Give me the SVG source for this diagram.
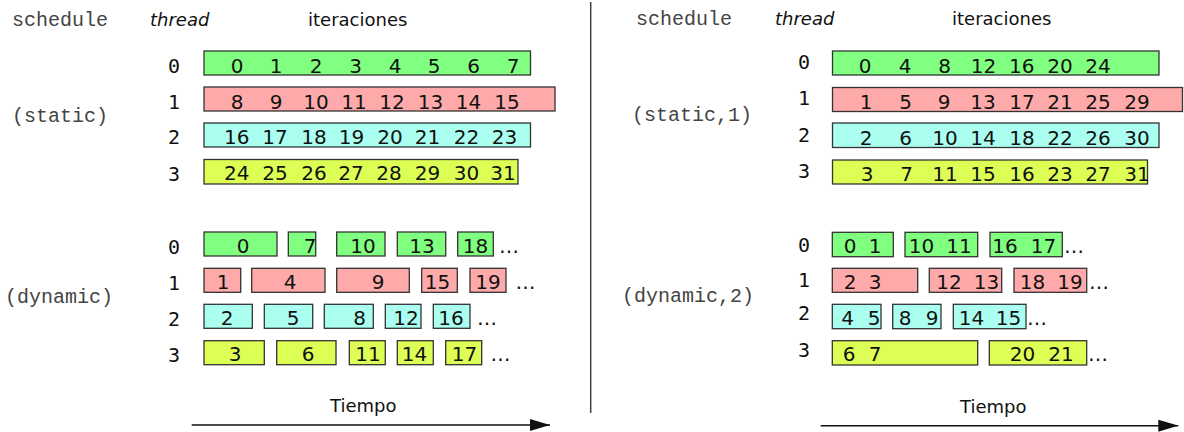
<svg xmlns="http://www.w3.org/2000/svg" width="1184" height="432" viewBox="0 0 1184 432">
  <defs>
    <marker id="arrow" viewBox="0 0 20 12" refX="20" refY="6" markerWidth="20" markerHeight="12" markerUnits="userSpaceOnUse" orient="auto">
      <path d="M0,0 L20,6 L0,12 Z" fill="#111"/>
    </marker>
  </defs>
  <style>
    .mono { font-family: "Liberation Mono", "Courier New", monospace; font-size: 20px; fill: #444; }
    .head { font-family: "DejaVu Sans", Verdana, sans-serif; font-size: 18px; fill: #111; }
    .thr { font-family: "DejaVu Sans Mono", monospace; font-size: 20px; fill: #111; text-anchor: middle; }
    .n { font-family: "DejaVu Sans", Verdana, sans-serif; font-size: 20px; fill: #111; text-anchor: middle; }
    .dots { font-family: "DejaVu Sans", Verdana, sans-serif; font-size: 20px; fill: #111; }
    .b { stroke: #333; stroke-width: 1.3; }
    .t0 { fill: #80ff80; }
    .t1 { fill: #ffaaaa; }
    .t2 { fill: #aafff0; }
    .t3 { fill: #ddff55; }
    .axis { stroke: #111; stroke-width: 1.4; fill: none; }
  </style>

  <!-- column headings -->
  <g id="headings">
    <text class="mono" x="12" y="26">schedule</text>
    <text class="head" x="150" y="26" font-style="italic" font-size="19">thread</text>
    <text class="head" x="308" y="26">iteraciones</text>
    <text class="mono" x="636" y="25">schedule</text>
    <text class="head" x="775" y="25" font-style="italic" font-size="19">thread</text>
    <text class="head" x="952" y="25">iteraciones</text>
  </g>

  <!-- separator between the two panels -->
  <line x1="590.7" y1="2" x2="590.7" y2="413" stroke="#444" stroke-width="1.5"/>

  <!-- schedule(static) -->
  <g id="static">
    <text class="mono" x="12" y="122">(static)</text>
    <text class="thr" x="174" y="72.5">0</text>
    <text class="thr" x="174" y="108.5">1</text>
    <text class="thr" x="174" y="144">2</text>
    <text class="thr" x="174" y="181">3</text>
    <rect class="b t0" x="204" y="51" width="326.5" height="24"/>
    <rect class="b t1" x="204" y="87" width="351" height="24"/>
    <rect class="b t2" x="204" y="123" width="326.5" height="24"/>
    <rect class="b t3" x="204" y="159.5" width="314" height="24.5"/>
    <g class="n">
      <text x="237" y="72.5">0</text><text x="276" y="72.5">1</text><text x="316" y="72.5">2</text><text x="355.5" y="72.5">3</text><text x="395" y="72.5">4</text><text x="434" y="72.5">5</text><text x="473.5" y="72.5">6</text><text x="513" y="72.5">7</text>
      <text x="237" y="108.5">8</text><text x="276" y="108.5">9</text><text x="316" y="108.5">10</text><text x="354" y="108.5">11</text><text x="392" y="108.5">12</text><text x="430.5" y="108.5">13</text><text x="468.5" y="108.5">14</text><text x="507" y="108.5">15</text>
      <text x="236.7" y="143.5">16</text><text x="275" y="143.5">17</text><text x="314" y="143.5">18</text><text x="351.5" y="143.5">19</text><text x="390" y="143.5">20</text><text x="427.5" y="143.5">21</text><text x="466.5" y="143.5">22</text><text x="504.5" y="143.5">23</text>
      <text x="236.7" y="180">24</text><text x="275" y="180">25</text><text x="314" y="180">26</text><text x="351" y="180">27</text><text x="389" y="180">28</text><text x="427.5" y="180">29</text><text x="466.5" y="180">30</text><text x="503" y="180">31</text>
    </g>
  </g>

  <!-- schedule(dynamic) -->
  <g id="dynamic">
    <text class="mono" x="5" y="303">(dynamic)</text>
    <text class="thr" x="174" y="253.5">0</text>
    <text class="thr" x="174" y="290">1</text>
    <text class="thr" x="174" y="326">2</text>
    <text class="thr" x="174" y="361.5">3</text>
    <rect class="b t0" x="204" y="232" width="73" height="24"/>
    <rect class="b t0" x="288.3" y="232" width="27.4" height="24"/>
    <rect class="b t0" x="336.7" y="232" width="48.3" height="24"/>
    <rect class="b t0" x="397.3" y="232" width="48.4" height="24"/>
    <rect class="b t0" x="457.7" y="232" width="35.6" height="24"/>
    <rect class="b t1" x="204" y="268.3" width="36.7" height="24"/>
    <rect class="b t1" x="251.7" y="268.3" width="73.3" height="24"/>
    <rect class="b t1" x="336.7" y="268.3" width="72.6" height="24"/>
    <rect class="b t1" x="421.7" y="268.3" width="35.6" height="24"/>
    <rect class="b t1" x="470" y="268.3" width="36" height="24"/>
    <rect class="b t2" x="204" y="304.3" width="48.3" height="24"/>
    <rect class="b t2" x="264.3" y="304.3" width="48.4" height="24"/>
    <rect class="b t2" x="324.3" y="304.3" width="49" height="24"/>
    <rect class="b t2" x="385.3" y="304.3" width="35.7" height="24"/>
    <rect class="b t2" x="433.3" y="304.3" width="36.7" height="24"/>
    <rect class="b t3" x="204" y="340.7" width="60.3" height="24"/>
    <rect class="b t3" x="276.7" y="340.7" width="59.3" height="24"/>
    <rect class="b t3" x="349.3" y="340.7" width="36" height="24"/>
    <rect class="b t3" x="397.3" y="340.7" width="36" height="24"/>
    <rect class="b t3" x="445.7" y="340.7" width="36" height="24"/>
    <g class="n">
      <text x="243" y="253.3">0</text><text x="310" y="253.3">7</text><text x="363" y="253.3">10</text><text x="422" y="253.3">13</text><text x="475.5" y="253.3">18</text>
      <text x="223" y="289">1</text><text x="290" y="289">4</text><text x="378" y="289">9</text><text x="437.5" y="289">15</text><text x="488" y="289">19</text>
      <text x="227" y="325">2</text><text x="293" y="325">5</text><text x="359.5" y="325">8</text><text x="406" y="325">12</text><text x="451" y="325">16</text>
      <text x="235" y="361">3</text><text x="308" y="361">6</text><text x="368" y="361">11</text><text x="414.5" y="361">14</text><text x="464.5" y="361">17</text>
    </g>
    <g class="dots">
      <text x="499" y="253">…</text>
      <text x="515.5" y="289">…</text>
      <text x="477" y="325">…</text>
      <text x="490.5" y="361">…</text>
    </g>
  </g>

  <!-- schedule(static,1) -->
  <g id="static1">
    <text class="mono" x="632" y="121">(static,1)</text>
    <text class="thr" x="804" y="68.5">0</text>
    <text class="thr" x="804" y="105">1</text>
    <text class="thr" x="804" y="142">2</text>
    <text class="thr" x="804" y="178">3</text>
    <rect class="b t0" x="832.5" y="51" width="326.5" height="24"/>
    <rect class="b t1" x="832.5" y="87.5" width="350" height="24"/>
    <rect class="b t2" x="832.5" y="123" width="326.5" height="24.5"/>
    <rect class="b t3" x="832.5" y="160" width="315" height="24"/>
    <g class="n">
      <text x="865" y="72.7">0</text><text x="905" y="72.7">4</text><text x="944.5" y="72.7">8</text><text x="983.5" y="72.7">12</text><text x="1021.7" y="72.7">16</text><text x="1060" y="72.7">20</text><text x="1098" y="72.7">24</text>
      <text x="866" y="108.7">1</text><text x="905.5" y="108.7">5</text><text x="944" y="108.7">9</text><text x="983" y="108.7">13</text><text x="1022" y="108.7">17</text><text x="1060" y="108.7">21</text><text x="1098" y="108.7">25</text><text x="1137" y="108.7">29</text>
      <text x="866" y="144.5">2</text><text x="905.5" y="144.5">6</text><text x="945" y="144.5">10</text><text x="983" y="144.5">14</text><text x="1022" y="144.5">18</text><text x="1060" y="144.5">22</text><text x="1098" y="144.5">26</text><text x="1137" y="144.5">30</text>
      <text x="867" y="180.7">3</text><text x="906.7" y="180.7">7</text><text x="945" y="180.7">11</text><text x="983" y="180.7">15</text><text x="1022" y="180.7">16</text><text x="1060" y="180.7">23</text><text x="1098" y="180.7">27</text><text x="1137" y="180.7">31</text>
    </g>
  </g>

  <!-- schedule(dynamic,2) -->
  <g id="dynamic2">
    <text class="mono" x="622" y="302">(dynamic,2)</text>
    <text class="thr" x="804" y="251.7">0</text>
    <text class="thr" x="804" y="286.7">1</text>
    <text class="thr" x="804" y="320">2</text>
    <text class="thr" x="804" y="357">3</text>
    <rect class="b t0" x="832.3" y="232.3" width="61" height="24.4"/>
    <rect class="b t0" x="905" y="232.3" width="72.7" height="24.4"/>
    <rect class="b t0" x="990" y="232.3" width="72.3" height="24.4"/>
    <rect class="b t1" x="832.3" y="268.3" width="85.4" height="24"/>
    <rect class="b t1" x="929.3" y="268.3" width="72.4" height="24"/>
    <rect class="b t1" x="1014" y="268.3" width="72.7" height="24"/>
    <rect class="b t2" x="832.3" y="304.3" width="48.7" height="24.4"/>
    <rect class="b t2" x="892.7" y="304.3" width="48.3" height="24.4"/>
    <rect class="b t2" x="953.3" y="304.3" width="72.7" height="24.4"/>
    <rect class="b t3" x="832.3" y="340.7" width="145.4" height="24.3"/>
    <rect class="b t3" x="989.3" y="340.7" width="97.4" height="24.3"/>
    <g class="n">
      <text x="850" y="252.5">0</text><text x="875" y="252.5">1</text><text x="921.5" y="252.5">10</text><text x="959" y="252.5">11</text><text x="1005" y="252.5">16</text><text x="1043.5" y="252.5">17</text>
      <text x="850" y="288.5">2</text><text x="875" y="288.5">3</text><text x="949" y="288.5">12</text><text x="986.5" y="288.5">13</text><text x="1032.5" y="288.5">18</text><text x="1070" y="288.5">19</text>
      <text x="847.5" y="325">4</text><text x="874" y="325">5</text><text x="905" y="325">8</text><text x="932" y="325">9</text><text x="971.5" y="325">14</text><text x="1008.5" y="325">15</text>
      <text x="849" y="360.5">6</text><text x="875" y="360.5">7</text><text x="1022.5" y="360.5">20</text><text x="1061" y="360.5">21</text>
    </g>
    <g class="dots">
      <text x="1064" y="253">…</text>
      <text x="1089" y="289">…</text>
      <text x="1027" y="325">…</text>
      <text x="1088" y="361">…</text>
    </g>
  </g>

  <!-- time axes -->
  <g id="connectors">
    <line class="axis" x1="191.7" y1="425" x2="550" y2="425" marker-end="url(#arrow)"/>
    <line class="axis" x1="820.7" y1="425.7" x2="1178.3" y2="425.7" marker-end="url(#arrow)"/>
  </g>
  <g id="axis-labels">
    <text class="head" x="330" y="412" font-size="19">Tiempo</text>
    <text class="head" x="960" y="413" font-size="19">Tiempo</text>
  </g>
</svg>
